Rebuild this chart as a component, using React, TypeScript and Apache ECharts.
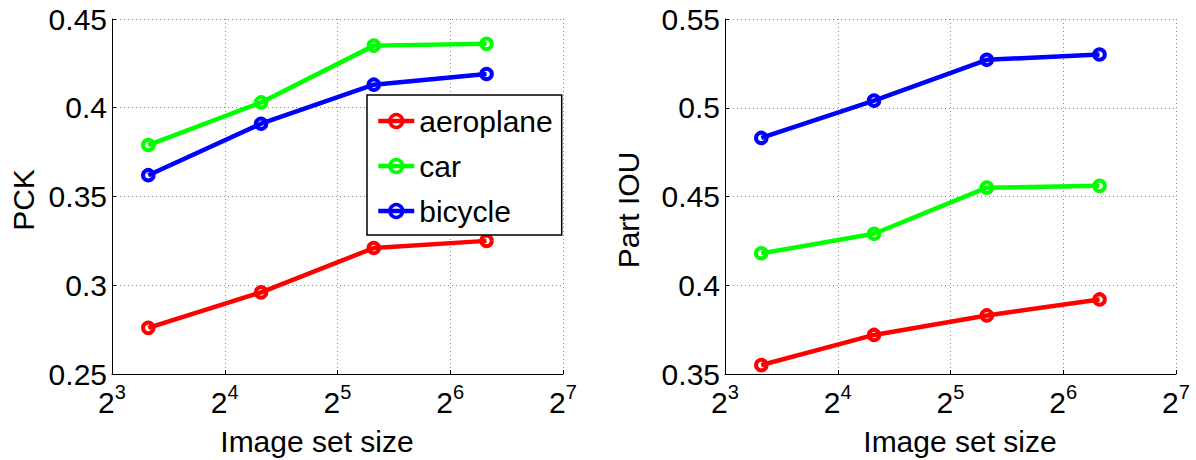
import React, { useEffect, useRef } from "react";
import * as echarts from "echarts";

// ---- data ----
const sizes = [10, 20, 40, 80];
const seriesNames = ["aeroplane", "car", "bicycle"];
const seriesColors = ["#ff0000", "#00ff00", "#0000ff"];

const pckAeroplane = [0.276, 0.296, 0.321, 0.325];
const pckCar = [0.379, 0.403, 0.435, 0.436];
const pckBicycle = [0.362, 0.391, 0.413, 0.419];

const iouAeroplane = [0.355, 0.372, 0.383, 0.392];
const iouCar = [0.418, 0.429, 0.455, 0.456];
const iouBicycle = [0.483, 0.504, 0.527, 0.53];

const pckRange = [0.25, 0.45];
const iouRange = [0.35, 0.55];
const yStep = 0.05;
const xRange = [8, 128];

const leftTitleY = "PCK";
const rightTitleY = "Part IOU";
const titleX = "Image set size";

const FONT = "Liberation Sans, Arial, Helvetica, sans-serif";

export default function App() {
  const ref = useRef<HTMLDivElement>(null);

  useEffect(() => {
    if (!ref.current) return;
    const chart = echarts.init(ref.current, null, { renderer: "svg" });

    const grids = [
      { left: 112, top: 19, width: 451, height: 355 },
      { left: 725, top: 19, width: 451, height: 355 },
    ];

    const makeX = (gi: number) => ({
      type: "log",
      logBase: 2,
      gridIndex: gi,
      min: xRange[0],
      max: xRange[1],
      splitNumber: 4,
      axisLine: { show: true, onZero: false, lineStyle: { color: "#000", width: 1 } },
      axisTick: { show: true, inside: true, length: 4, lineStyle: { color: "#000" } },
      axisLabel: {
        margin: 8,
        color: "#000",
        formatter: (v: number) => `{b|2}{s|${Math.round(Math.log2(v))}}`,
        rich: {
          b: { fontSize: 30, lineHeight: 40, fontFamily: FONT, color: "#000" },
          s: { fontSize: 20, lineHeight: 20, verticalAlign: "top", fontFamily: FONT, color: "#000" },
        },
      },
      splitLine: { show: true, lineStyle: { color: "#8c8c8c", type: [1, 3], width: 1 } },
    });

    const makeY = (gi: number, range: number[]) => ({
      type: "value",
      gridIndex: gi,
      min: range[0],
      max: range[1],
      interval: yStep,
      axisLine: { show: true, onZero: false, lineStyle: { color: "#000", width: 1 } },
      axisTick: { show: true, inside: true, length: 4, lineStyle: { color: "#000" } },
      axisLabel: { margin: 5, color: "#000", fontSize: 30, fontFamily: FONT },
      splitLine: { show: true, lineStyle: { color: "#8c8c8c", type: [1, 3], width: 1 } },
    });

    const mk = (name: string, color: string, values: number[], gi: number) => ({
      type: "line",
      name,
      xAxisIndex: gi,
      yAxisIndex: gi,
      data: sizes.map((s, i) => [s, values[i]]),
      symbol: "circle",
      symbolSize: 10.5,
      lineStyle: { color, width: 4.5 },
      itemStyle: { color: "rgba(255,255,255,0)", borderColor: color, borderWidth: 4 },
      emphasis: { disabled: true },
    });

    const option = {
      animation: false,
      backgroundColor: "#fff",
      textStyle: { fontFamily: FONT },
      grid: grids,
      xAxis: [makeX(0), makeX(1)],
      yAxis: [makeY(0, pckRange), makeY(1, iouRange)],
      legend: {
        left: 367,
        top: 95,
        orient: "vertical",
        data: seriesNames,
        backgroundColor: "#fff",
        borderColor: "#000",
        borderWidth: 1.5,
        padding: [11, 9, 9, 9],
        itemWidth: 36,
        itemHeight: 16,
        itemGap: 15,
        selectedMode: false,
        lineStyle: { width: 4.5 },
        itemStyle: { borderWidth: 3.5 },
        textStyle: { fontSize: 30, lineHeight: 30, color: "#000", fontFamily: FONT },
      },
      series: [
        mk(seriesNames[0], seriesColors[0], pckAeroplane, 0),
        mk(seriesNames[1], seriesColors[1], pckCar, 0),
        mk(seriesNames[2], seriesColors[2], pckBicycle, 0),
        mk(seriesNames[0], seriesColors[0], iouAeroplane, 1),
        mk(seriesNames[1], seriesColors[1], iouCar, 1),
        mk(seriesNames[2], seriesColors[2], iouBicycle, 1),
      ],
      graphic: [
        {
          type: "text",
          x: 23,
          y: 200,
          rotation: Math.PI / 2,
          style: { text: leftTitleY, fontSize: 30, fontFamily: FONT, fill: "#000", align: "center", verticalAlign: "middle" },
        },
        {
          type: "text",
          x: 628,
          y: 210,
          rotation: Math.PI / 2,
          style: { text: rightTitleY, fontSize: 30, fontFamily: FONT, fill: "#000", align: "center", verticalAlign: "middle" },
        },
        {
          type: "text",
          x: 317,
          y: 441,
          style: { text: titleX, fontSize: 30, fontFamily: FONT, fill: "#000", align: "center", verticalAlign: "middle" },
        },
        {
          type: "text",
          x: 960,
          y: 441,
          style: { text: titleX, fontSize: 30, fontFamily: FONT, fill: "#000", align: "center", verticalAlign: "middle" },
        },
      ],
    };

    chart.setOption(option as any);
    return () => chart.dispose();
  }, []);

  return (
    <div
      ref={ref}
      style={{ position: "absolute", left: 0, top: 0, width: 1196, height: 460, background: "#fff" }}
    />
  );
}
